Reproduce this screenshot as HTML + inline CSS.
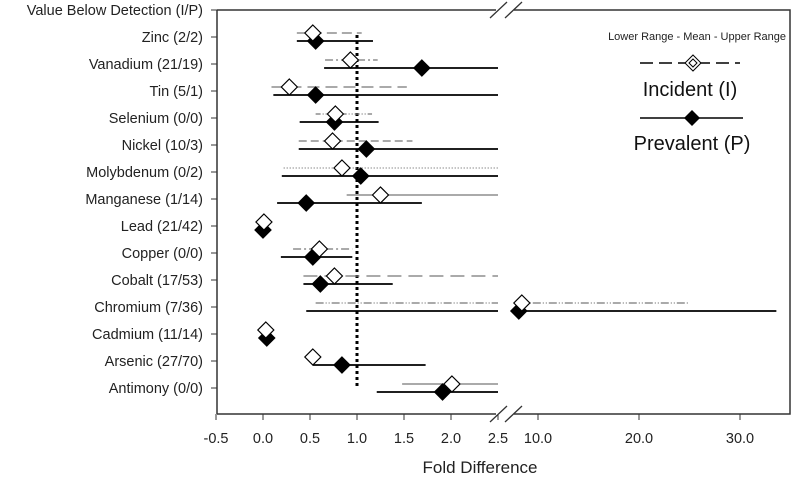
<!DOCTYPE html>
<html><head><meta charset="utf-8"><style>
html,body{margin:0;padding:0;background:#fff;}
svg{display:block;font-family:"Liberation Sans",Arial,sans-serif;}
</style></head><body>
<svg id="chart" width="797" height="478" viewBox="0 0 797 478" xmlns="http://www.w3.org/2000/svg"></svg>
<script>
const categories=["Zinc (2/2)","Vanadium (21/19)","Tin (5/1)","Selenium (0/0)","Nickel (10/3)","Molybdenum (0/2)","Manganese (1/14)","Lead (21/42)","Copper (0/0)","Cobalt (17/53)","Chromium (7/36)","Cadmium (11/14)","Arsenic (27/70)","Antimony (0/0)"];
const incLower=[0.36,0.66,0.09,0.56,0.38,0.22,0.89,null,0.32,0.43,0.56,null,null,1.48];
const incMean=[0.53,0.93,0.28,0.77,0.74,0.84,1.25,0.01,0.60,0.76,8.4,0.03,0.53,2.01];
const incUpper=[1.05,1.22,1.53,1.16,1.59,2.5,2.5,null,0.95,2.5,25.0,null,null,2.5];
const incStyle=["10,5","8,3,2,3","12,6","5,2,1,2,1,2","8,4","1,2","","","8,3,2,3","14,7","8,2,1,2,1,2","","",""];
const preLower=[0.36,0.65,0.11,0.39,0.38,0.20,0.15,null,0.19,0.43,0.46,null,0.53,1.21];
const preMean=[0.56,1.69,0.56,0.76,1.10,1.04,0.46,0.00,0.53,0.61,8.1,0.04,0.84,1.91];
const preUpper=[1.17,2.5,2.5,1.23,2.5,2.5,1.69,null,0.95,1.38,33.6,null,1.73,2.5];
const leftTicks=["-0.5","0.0","0.5","1.0","1.5","2.0","2.5"];
const rightTicks=["10.0","20.0","30.0"];

const NS="http://www.w3.org/2000/svg";
const svg=document.getElementById('chart');
function el(tag,attrs,parent){const e=document.createElementNS(NS,tag);for(const k in attrs)e.setAttribute(k,attrs[k]);(parent||svg).appendChild(e);return e;}
const X0=216,XL=497,XR0=538;
function xs(v){ if(v<=2.5) return 263+(v)*94; return XR0+(v-10)*10.1; }
function ys(i){ return 37+i*27; }
// frame
const AX=217,TOP=10,BOT=414,RIGHT=790;
let f;
f=el('line',{x1:AX,y1:TOP,x2:AX,y2:BOT,stroke:'#333','stroke-width':1.5});

f=el('polyline',{points:`${AX},${TOP} 496,${TOP}`,fill:'none',stroke:'#333','stroke-width':1.5});

f=el('polyline',{points:`514,${TOP} ${RIGHT},${TOP} ${RIGHT},${BOT} 514,${BOT}`,fill:'none',stroke:'#333','stroke-width':1.5});

f=el('line',{x1:AX,y1:BOT,x2:496,y2:BOT,stroke:'#333','stroke-width':1.5});

[TOP,BOT].forEach(y=>{[[490,507],[505,522]].forEach(([a,b])=>{
  const s=el('line',{x1:a,y1:y+8,x2:b,y2:y-8,stroke:'#333','stroke-width':1.3});
  
});});
// y labels
const yl=el('text',{x:203,y:TOP+5,'text-anchor':'end','font-size':14.5,fill:'#222'});
yl.textContent="Value Below Detection (I/P)";

el('line',{x1:AX-6,y1:TOP,x2:AX,y2:TOP,stroke:'#333'});
categories.forEach((c,i)=>{
  const t=el('text',{x:203,y:ys(i)+5,'text-anchor':'end','font-size':14.5,fill:'#222'});
  t.textContent=c;
  
  el('line',{x1:AX-6,y1:ys(i),x2:AX,y2:ys(i),stroke:'#333'});
});
// x ticks
leftTicks.forEach(tk=>{const v=parseFloat(tk);const x=xs(v);
  el('line',{x1:x,y1:BOT,x2:x,y2:BOT+6,stroke:'#333'});
  const t=el('text',{x:x,y:443,'text-anchor':'middle','font-size':14.5,fill:'#222'});t.textContent=tk;
  });
rightTicks.forEach(tk=>{const v=parseFloat(tk);const x=xs(v);
  el('line',{x1:x,y1:BOT,x2:x,y2:BOT+6,stroke:'#333'});
  const t=el('text',{x:x,y:443,'text-anchor':'middle','font-size':14.5,fill:'#222'});t.textContent=tk;
  });
const xt=el('text',{x:480,y:473,'text-anchor':'middle','font-size':17,fill:'#222'});xt.textContent="Fold Difference";

// reference line
const rl=el('line',{x1:xs(1),y1:ys(0)-2,x2:xs(1),y2:ys(13),stroke:'#000','stroke-width':3,'stroke-dasharray':'3,3'});

function seg(lo,hi,y,style,color,w,name){
  if(lo==null||hi==null)return;
  const parts=[];
  if(hi<=2.5) parts.push([xs(lo),xs(hi)]);
  else if(lo>2.5) parts.push([xs(lo),xs(hi)]);
  else {parts.push([xs(lo),xs(2.5)]);parts.push([xs(Math.max(lo,7.9)),xs(hi)]);}
  parts.forEach(p=>{const a={x1:p[0],y1:y,x2:p[1],y2:y,stroke:color,'stroke-width':w};if(style)a['stroke-dasharray']=style;
    const l=el('line',a);});
}
function diamond(x,y,r,fill,name){
  const d=el('polygon',{points:`${x},${y-r} ${x+r},${y} ${x},${y+r} ${x-r},${y}`,fill:fill,stroke:'#000','stroke-width':1.2});
  
}
categories.forEach((c,i)=>{
  const y=ys(i);
  seg(preLower[i],preUpper[i],y+4,"",'#000',1.8,'prevalent-range');
  seg(incLower[i],incUpper[i],y-4,incStyle[i],'#777',1.3,'incident-range');
  diamond(xs(preMean[i]),y+4,8,'#000','prevalent-mean');
  diamond(xs(incMean[i]),y-4,8,'#fff','incident-mean');
});
// legend
let lt=el('text',{x:786,y:40,'text-anchor':'end','font-size':11,fill:'#222'});lt.textContent="Lower Range - Mean - Upper Range";

let ll=el('line',{x1:640,y1:63,x2:740,y2:63,stroke:'#000','stroke-width':1.5,'stroke-dasharray':'13,6'});

el('polygon',{points:'693,55 701,63 693,71 685,63',fill:'#fff',stroke:'#000'});
el('polygon',{points:'693,59 697,63 693,67 689,63',fill:'#fff',stroke:'#000'});
lt=el('text',{x:690,y:96,'text-anchor':'middle','font-size':20,fill:'#111'});lt.textContent="Incident (I)";

ll=el('line',{x1:640,y1:118,x2:743,y2:118,stroke:'#000','stroke-width':1.5});

el('polygon',{points:'692,110 700,118 692,126 684,118',fill:'#000'});
lt=el('text',{x:692,y:150,'text-anchor':'middle','font-size':20,fill:'#111'});lt.textContent="Prevalent (P)";

</script>
</body></html>
